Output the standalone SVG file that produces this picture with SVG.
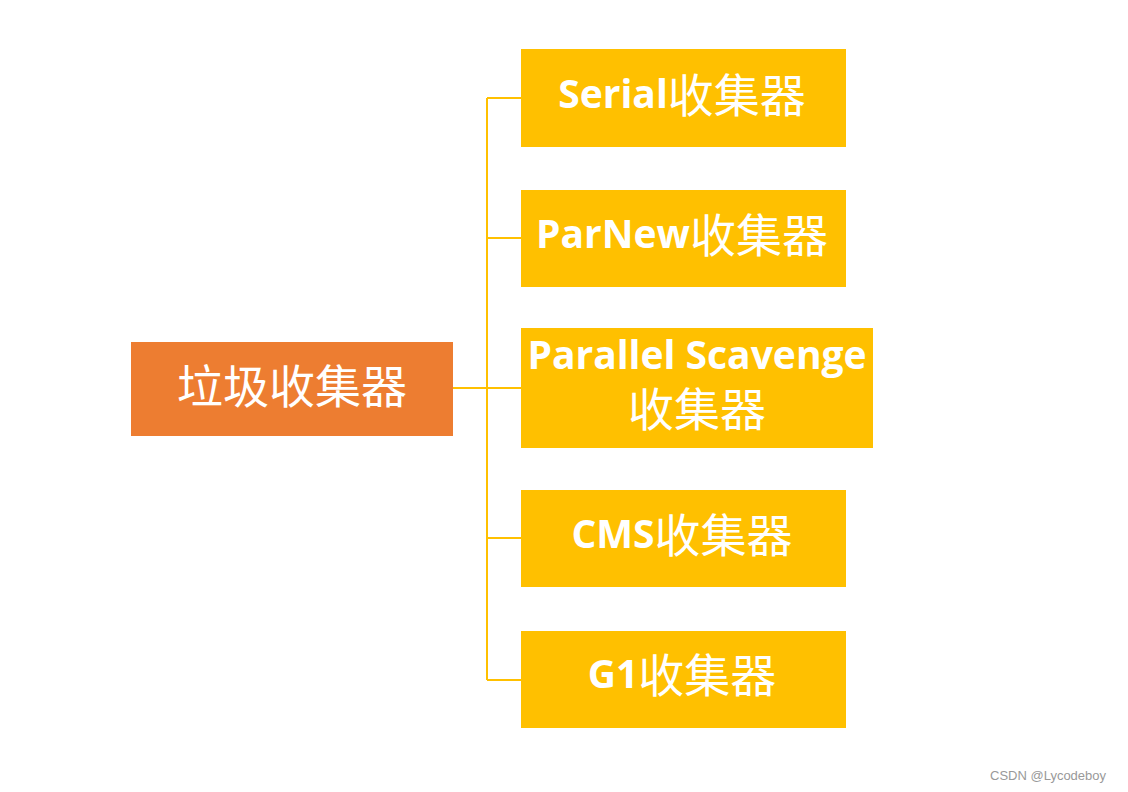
<svg xmlns="http://www.w3.org/2000/svg" width="1128" height="792" viewBox="0 0 1128 792">
<style>
.root{fill:#ED7D31}
.child{fill:#FFC000}
.lbl{fill:#FFFFFF;font-family:"Open Sans","Noto Sans CJK SC",sans-serif;font-weight:bold;font-size:39px;text-anchor:middle;dominant-baseline:central}
.cjk{font-family:"Noto Sans CJK SC",sans-serif;font-weight:400;font-size:46px}
.conn{stroke:#FFC000;stroke-width:2;fill:none}
.wm{fill:#999999;font-family:"Liberation Sans",Arial,sans-serif;font-size:13px}
</style>
<rect width="1128" height="792" fill="#FFFFFF"/>
<g id="connectors">
<path class="conn" d="M453 388H487M487 98V680M487 98H521M487 238H521M487 388H521M487 538H521M487 680H521"/>
</g>
<g id="node-root">
<rect class="root" x="131" y="342" width="322" height="94"/>
<text class="lbl" x="292" y="383"><tspan class="cjk">垃圾收集器</tspan></text>
</g>
<g id="node-serial">
<rect class="child" x="521" y="49" width="325" height="98"/>
<text class="lbl" x="682" y="92">Serial<tspan class="cjk">收集器</tspan></text>
</g>
<g id="node-parnew">
<rect class="child" x="521" y="190" width="325" height="97"/>
<text class="lbl" x="682" y="232">ParNew<tspan class="cjk">收集器</tspan></text>
</g>
<g id="node-ps">
<rect class="child" x="521" y="328" width="352" height="120"/>
<text class="lbl" x="697" y="353">Parallel Scavenge</text>
<text class="lbl" x="697" y="406"><tspan class="cjk">收集器</tspan></text>
</g>
<g id="node-cms">
<rect class="child" x="521" y="490" width="325" height="97"/>
<text class="lbl" x="682" y="532">CMS<tspan class="cjk">收集器</tspan></text>
</g>
<g id="node-g1">
<rect class="child" x="521" y="631" width="325" height="97"/>
<text class="lbl" x="682" y="672">G1<tspan class="cjk">收集器</tspan></text>
</g>
<text class="wm" x="990" y="780">CSDN @Lycodeboy</text>
</svg>
